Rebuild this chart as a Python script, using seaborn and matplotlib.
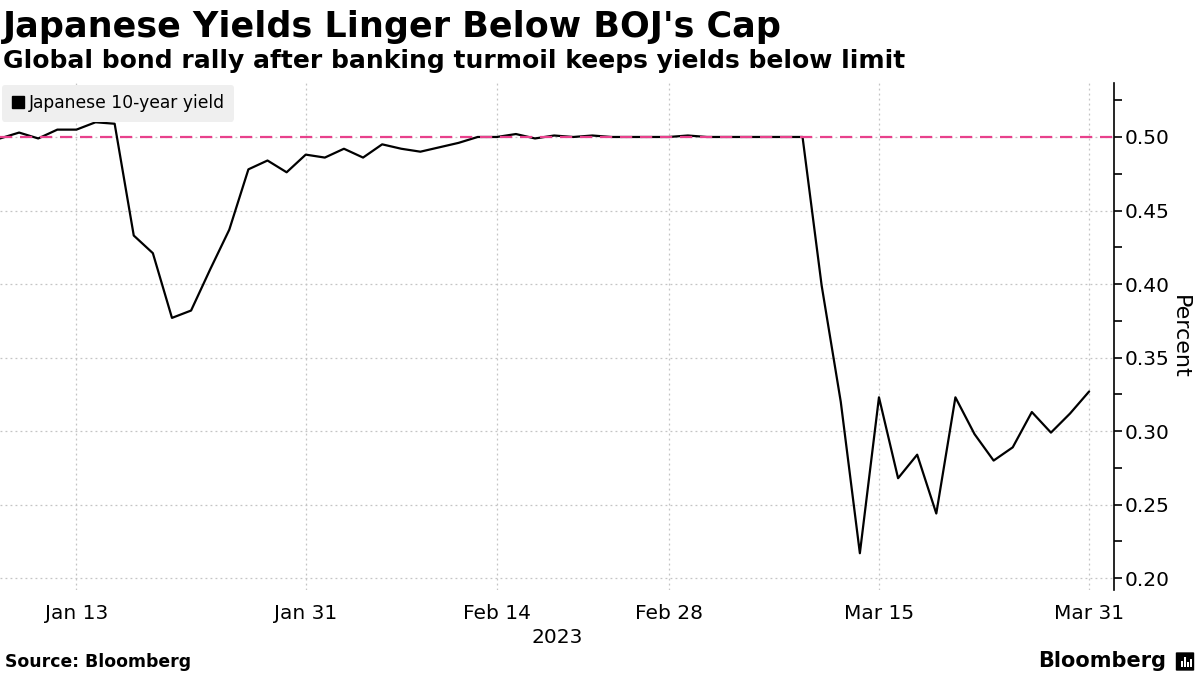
import matplotlib
matplotlib.use("Agg")
import matplotlib.pyplot as plt
import seaborn as sns
import pandas as pd
from matplotlib.lines import Line2D
from matplotlib.patches import FancyBboxPatch, Rectangle
from matplotlib.ticker import MultipleLocator, FixedLocator

# ---------------- data ----------------
dates = [
    "2023-01-06", "2023-01-10", "2023-01-11", "2023-01-12", "2023-01-13",
    "2023-01-16", "2023-01-17", "2023-01-18", "2023-01-19", "2023-01-20",
    "2023-01-23", "2023-01-24", "2023-01-25", "2023-01-26", "2023-01-27",
    "2023-01-30", "2023-01-31",
    "2023-02-01", "2023-02-02", "2023-02-03", "2023-02-06", "2023-02-07",
    "2023-02-08", "2023-02-09", "2023-02-10", "2023-02-13", "2023-02-14",
    "2023-02-15", "2023-02-16", "2023-02-17", "2023-02-20", "2023-02-21",
    "2023-02-22", "2023-02-24", "2023-02-27", "2023-02-28",
    "2023-03-01", "2023-03-02", "2023-03-03", "2023-03-06", "2023-03-07",
    "2023-03-08", "2023-03-09", "2023-03-10", "2023-03-13", "2023-03-14",
    "2023-03-15", "2023-03-16", "2023-03-17", "2023-03-20", "2023-03-22",
    "2023-03-23", "2023-03-24", "2023-03-27", "2023-03-28", "2023-03-29",
    "2023-03-30", "2023-03-31",
]
yield_10y = [
    0.499, 0.503, 0.499, 0.505, 0.505,
    0.510, 0.509, 0.433, 0.421, 0.377,
    0.382, 0.410, 0.437, 0.478, 0.484,
    0.476, 0.488,
    0.486, 0.492, 0.486, 0.495, 0.492,
    0.490, 0.493, 0.496, 0.500, 0.500,
    0.502, 0.499, 0.501, 0.500, 0.501,
    0.500, 0.500, 0.500, 0.500,
    0.501, 0.500, 0.500, 0.500, 0.500,
    0.500, 0.500, 0.399, 0.320, 0.217,
    0.323, 0.268, 0.284, 0.244, 0.323,
    0.298, 0.280, 0.289, 0.313, 0.299,
    0.312, 0.327,
]
tick_dates = ["2023-01-13", "2023-01-31", "2023-02-14", "2023-02-28", "2023-03-15", "2023-03-31"]
tick_labels = ["Jan 13", "Jan 31", "Feb 14", "Feb 28", "Mar 15", "Mar 31"]
y_ticks = [0.20, 0.25, 0.30, 0.35, 0.40, 0.45, 0.50]
boj_cap = 0.50

title = "Japanese Yields Linger Below BOJ's Cap"
subtitle = "Global bond rally after banking turmoil keeps yields below limit"
series_name = "Japanese 10-year yield"
source = "Source: Bloomberg"

df = pd.DataFrame({"date": dates, "yield": yield_10y})
df["idx"] = range(len(df))

# ---------------- style ----------------
sns.set_style("white")
plt.rcParams["font.family"] = ["DejaVu Sans"]
plt.rcParams["text.color"] = "black"
plt.rcParams["axes.labelcolor"] = "black"

fig = plt.figure(figsize=(12, 6.75), dpi=100)
W, H = 1200, 675
ax_left, ax_right, ax_top, ax_bot = 0, 1114, 83, 590
ax = fig.add_axes([ax_left / W, 1 - ax_bot / H, (ax_right - ax_left) / W, (ax_bot - ax_top) / H])

grid_kw = dict(color="#c4c4c4", linestyle=(0, (1.5, 2.5)), linewidth=0.9)

sns.lineplot(data=df, x="idx", y="yield", ax=ax, color="black", linewidth=1.6, zorder=3)
ax.axhline(boj_cap, color="#e8418c", linestyle=(0, (5.5, 3.5)), linewidth=1.6, zorder=4)

ax.set_xlim(0, 58.3)
ax.set_ylim(0.192, 0.5367)

# x ticks
tick_pos = [dates.index(d) for d in tick_dates]
ax.xaxis.set_major_locator(FixedLocator(tick_pos))
ax.set_xticklabels(tick_labels)
ax.tick_params(axis="x", length=0, labelsize=14.5, pad=10, colors="black")
ax.set_xlabel("2023", fontsize=14.5, labelpad=4, color="black")
ax.xaxis.grid(True, **grid_kw)

# y ticks
ax.yaxis.tick_right()
ax.yaxis.set_label_position("right")
ax.yaxis.set_major_locator(FixedLocator(y_ticks))
ax.yaxis.set_minor_locator(MultipleLocator(0.025))
ax.set_yticklabels([f"{v:.2f}" for v in y_ticks])
ax.tick_params(axis="y", which="major", length=6, width=1.2, labelsize=14.5, pad=2, direction="out", colors="black")
ax.tick_params(axis="y", which="minor", length=6, width=1.2, direction="out", colors="black")
ax.yaxis.grid(True, which="major", **grid_kw)
ax.set_ylabel("Percent", fontsize=16, rotation=270, labelpad=14, color="black")

for s in ["left", "top", "bottom"]:
    ax.spines[s].set_visible(False)
ax.spines["right"].set_color("black")
ax.spines["right"].set_linewidth(1.2)
ax.set_axisbelow(True)

# legend
handle = Line2D([], [], marker="s", color="black", linestyle="none", markersize=8.5)
leg = ax.legend([handle], [series_name], loc="upper left", bbox_to_anchor=(0, 1),
                borderaxespad=0.1, frameon=True, fontsize=12.3, handletextpad=0.25,
                handlelength=0.8, borderpad=0.55, fancybox=True)
leg.get_frame().set_facecolor("#efefef")
leg.get_frame().set_edgecolor("none")
leg.get_frame().set_alpha(1)
leg.set_zorder(5)
for t in leg.get_texts():
    t.set_color("black")

# titles
fig.text(3 / W, 1 - 37 / H, title, fontsize=25.2, fontweight="bold", ha="left", va="baseline", color="black")
fig.text(3 / W, 1 - 68 / H, subtitle, fontsize=18, fontweight="bold", ha="left", va="baseline", color="black")

# footer
fig.text(5 / W, 1 - 667 / H, source, fontsize=12.4, fontweight="bold", ha="left", va="baseline", color="black")
fig.text(1166 / W, 1 - 667 / H, "Bloomberg", fontsize=15, fontweight="bold", ha="right", va="baseline", color="black")
logo = FancyBboxPatch((1177 / W, 1 - 670 / H), 16 / W, 17 / H, boxstyle="round,pad=0.001",
                      transform=fig.transFigure, facecolor="black", edgecolor="none")
fig.patches.append(logo)
for bx, bh in [(1181, 6), (1184, 10), (1187, 5), (1190, 8)]:
    fig.patches.append(Rectangle((bx / W, 1 - 667 / H), 1.6 / W, bh / H,
                                 transform=fig.transFigure, facecolor="white", edgecolor="none"))

fig.savefig("out.png", dpi=100)
